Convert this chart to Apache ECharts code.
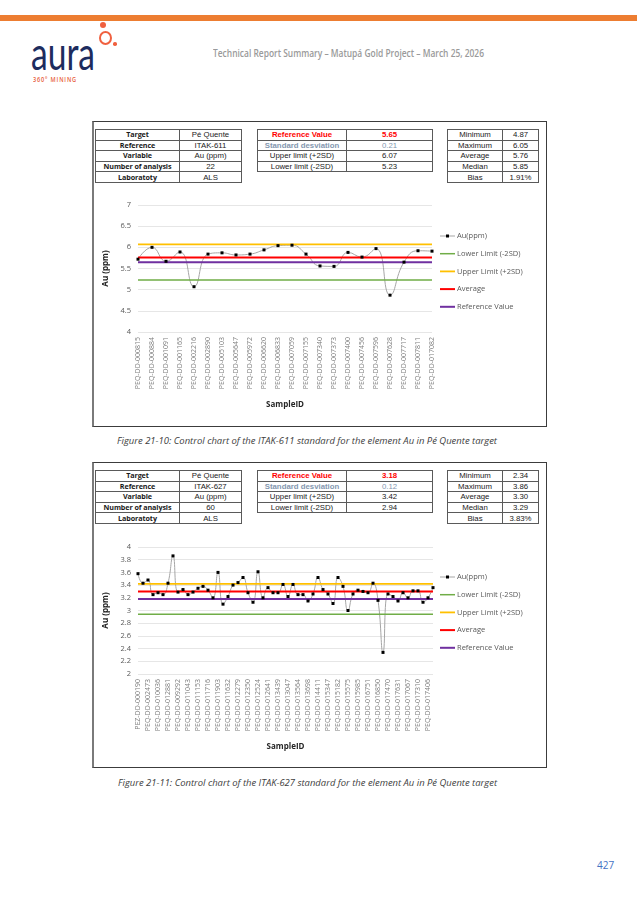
<!DOCTYPE html>
<html><head><meta charset="utf-8">
<script src="https://cdn.jsdelivr.net/npm/echarts@6/dist/echarts.min.js"></script>
<style>
html,body{margin:0;padding:0;background:#fff;}
body{width:637px;height:900px;position:relative;overflow:hidden;font-family:"Liberation Sans",Arial,sans-serif;}
.abs{position:absolute;white-space:nowrap;}
.fit{display:inline-block;transform-origin:0 50%;}
.cell{position:absolute;box-sizing:border-box;border:1px solid #5a5a5a;font-size:7.8px;line-height:9px;color:#1a1a1a;white-space:nowrap;display:flex;align-items:center;justify-content:center;}
.panel{position:absolute;box-sizing:border-box;border:1px solid #3c3c3c;border-left:2px solid #7a7a7a;}
.cap{font-family:"Open Sans",sans-serif;font-style:italic;font-size:9px;color:#404040;}
</style></head>
<body>
<div class="abs" style="left:0;top:15px;width:637px;height:6px;background:#ED7D31;"></div>
<!-- logo -->
<div class="abs" style="left:31px;top:30px;font-family:Lato,sans-serif;font-weight:400;font-size:46px;line-height:46px;color:#1d2c5e;"><span class="fit" data-w="64">aura</span></div>
<div class="abs" style="left:100px;top:22px;width:6px;height:6px;border-radius:50%;background:#F0603F;"></div>
<div class="abs" style="left:99px;top:31px;width:9px;height:10px;border-radius:50%;border:2.5px solid #F0603F;"></div>
<div class="abs" style="left:113px;top:42px;width:3.5px;height:3.5px;border-radius:50%;background:#F0603F;"></div>
<div class="abs" style="left:33px;top:76px;font-family:'Open Sans',sans-serif;font-weight:600;font-size:6.5px;line-height:8px;color:#E8603C;letter-spacing:1px;"><span class="fit" data-w="44">360° MINING</span></div>
<div class="abs" style="left:213px;top:47px;font-family:'Open Sans',sans-serif;font-weight:600;font-size:10px;line-height:12px;color:#9a9a9a;"><span class="fit" data-w="271">Technical Report Summary – Matupá Gold Project – March 25, 2026</span></div>

<div class="panel" style="left:92px;top:121px;width:455px;height:306px;"></div>
<div class="panel" style="left:92px;top:462px;width:455px;height:306px;"></div>

<div id="tables"></div>

<div id="chart1" class="abs" style="left:93px;top:190px;width:453px;height:237px;"></div>
<div id="chart2" class="abs" style="left:93px;top:527px;width:453px;height:241px;"></div>

<div class="abs cap" style="left:117px;top:435px;line-height:12px;"><span class="fit" data-w="380">Figure 21-10: Control chart of the ITAK-611 standard for the element Au in Pé Quente target</span></div>
<div class="abs cap" style="left:118px;top:777px;line-height:12px;"><span class="fit" data-w="379">Figure 21-11: Control chart of the ITAK-627 standard for the element Au in Pé Quente target</span></div>
<div class="abs" style="left:597px;top:859px;font-family:'Open Sans',sans-serif;font-size:10px;line-height:12px;color:#4472C4;">427</div>

<script>
// ---------- Data: chart 1 (ITAK-611) ----------
const chart1Samples = ['PEQ-DD-000815','PEQ-DD-000884','PEQ-DD-001091','PEQ-DD-001165','PEQ-DD-002216','PEQ-DD-002890','PEQ-DD-005103','PEQ-DD-005647','PEQ-DD-005972','PEQ-DD-006620','PEQ-DD-006833','PEQ-DD-007059','PEQ-DD-007155','PEQ-DD-007340','PEQ-DD-007373','PEQ-DD-007400','PEQ-DD-007456','PEQ-DD-007596','PEQ-DD-007628','PEQ-DD-007717','PEQ-DD-007811','PEQ-DD-017082'];
const chart1Au = [5.72,6.00,5.67,5.89,5.07,5.84,5.87,5.82,5.84,5.94,6.04,6.05,5.84,5.56,5.55,5.88,5.77,5.97,4.87,5.65,5.92,5.91];
const chart1Limits = {lower:5.23, upper:6.07, avg:5.76, ref:5.65};
const chart1YAxis = {min:4, max:7, interval:0.5};

// ---------- Data: chart 2 (ITAK-627) ----------
const chart2ShownLabels = ['PEZ-DD-000190','PEQ-DD-002473','PEQ-DD-010036','PEQ-DD-012881','PEQ-DD-009292','PEQ-DD-011043','PEQ-DD-011153','PEQ-DD-011716','PEQ-DD-011903','PEQ-DD-011632','PEQ-DD-012279','PEQ-DD-012350','PEQ-DD-012524','PEQ-DD-012641','PEQ-DD-013439','PEQ-DD-013047','PEQ-DD-013564','PEQ-DD-013698','PEQ-DD-014411','PEQ-DD-015347','PEQ-DD-015182','PEQ-DD-015575','PEQ-DD-015985','PEQ-DD-016751','PEQ-DD-016850','PEQ-DD-017470','PEQ-DD-017631','PEQ-DD-017067','PEQ-DD-017310','PEQ-DD-017406'];
const chart2Au = [3.58,3.43,3.48,3.25,3.28,3.25,3.43,3.86,3.29,3.33,
                  3.25,3.29,3.35,3.38,3.32,3.20,3.60,3.10,3.22,3.40,
                  3.44,3.52,3.28,3.13,3.61,3.20,3.36,3.28,3.28,3.41,
                  3.22,3.41,3.25,3.25,3.15,3.26,3.52,3.33,3.26,3.11,
                  3.52,3.38,3.00,3.26,3.32,3.30,3.28,3.43,3.16,2.34,
                  3.26,3.22,3.15,3.28,3.20,3.31,3.31,3.13,3.20,3.36];
const chart2Limits = {lower:2.94, upper:3.42, avg:3.30, ref:3.18};
const chart2YAxis = {min:2, max:4, interval:0.2};
// every second sample label is shown on the axis; the others are not legible
const chart2Samples = chart2Au.map((_, i) => i % 2 === 0 ? chart2ShownLabels[i / 2] : '');

// ---------- Tables ----------
const tables1 = {
  left: [['Target','Pé Quente'],['Reference','ITAK-611'],['Variable','Au (ppm)'],['Number of analysis','22'],['Laboratoty','ALS']],
  mid: [['Reference Value','5.65'],['Standard desviation','0.21'],['Upper limit (+2SD)','6.07'],['Lower limit (-2SD)','5.23']],
  right: [['Minimum','4.87'],['Maximum','6.05'],['Average','5.76'],['Median','5.85'],['Bias','1.91%']]
};
const tables2 = {
  left: [['Target','Pé Quente'],['Reference','ITAK-627'],['Variable','Au (ppm)'],['Number of analysis','60'],['Laboratoty','ALS']],
  mid: [['Reference Value','3.18'],['Standard desviation','0.12'],['Upper limit (+2SD)','3.42'],['Lower limit (-2SD)','2.94']],
  right: [['Minimum','2.34'],['Maximum','3.86'],['Average','3.30'],['Median','3.29'],['Bias','3.83%']]
};

function drawTable(host, rows, x, y, w1, w2, rh, kind) {
  rows.forEach((r, i) => {
    [0, 1].forEach(c => {
      const d = document.createElement('div');
      d.className = 'cell';
      d.style.left = (c === 0 ? x : x + w1) + 'px';
      d.style.top = (y + i * rh) + 'px';
      d.style.width = ((c === 0 ? w1 : w2) + 1) + 'px';
      d.style.height = (rh + 1) + 'px';
      d.textContent = r[c];
      if (kind === 'left' && c === 0) { d.style.fontWeight = 'bold'; d.style.fontFamily = "'Open Sans',sans-serif"; d.style.fontSize = '7.2px'; d.style.letterSpacing='-0.1px'; }
      if (kind === 'mid' && i === 0) { d.style.color = '#FF0000'; d.style.fontWeight = 'bold'; }
      if (kind === 'mid' && i === 1) { d.style.color = '#8497B0'; if (c === 0) d.style.fontWeight = 'bold'; }
      host.appendChild(d);
    });
  });
}
const host = document.getElementById('tables');
function drawTables(t, top) {
  drawTable(host, t.left, 95, top, 84, 62, 10.6, 'left');
  drawTable(host, t.mid, 257, top, 89, 86, 10.6, 'mid');
  drawTable(host, t.right, 447, top, 55, 36, 10.6, 'right');
}
drawTables(tables1, 129);
drawTables(tables2, 470);

// ---------- fit text widths ----------
document.querySelectorAll('[data-w]').forEach(el => {
  const w = el.getBoundingClientRect().width;
  const t = parseFloat(el.getAttribute('data-w'));
  if (w > 0) el.style.transform = 'scaleX(' + (t / w) + ')';
});

// ---------- Charts ----------
const NAMES = ['Au(ppm)','Lower Limit (-2SD)','Upper Limit (+2SD)','Average','Reference Value'];
const COLORS = {au: '#A5A5A5', lower: '#70AD47', upper: '#FFC000', avg: '#FF0000', ref: '#7030A0'};

function legendGraphics(top) {
  const items = [
    {name: NAMES[0], color: COLORS.au, w: 1, marker: true},
    {name: NAMES[1], color: COLORS.lower, w: 1.5},
    {name: NAMES[2], color: COLORS.upper, w: 1.8},
    {name: NAMES[3], color: COLORS.avg, w: 2},
    {name: NAMES[4], color: COLORS.ref, w: 2}
  ];
  const out = [];
  items.forEach((it, i) => {
    const y = top + i * 17.7;
    out.push({type: 'line', shape: {x1: 347, y1: y, x2: 362, y2: y}, style: {stroke: it.color, lineWidth: it.w}, silent: true});
    if (it.marker) out.push({type: 'rect', shape: {x: 353, y: y - 1.5, width: 3, height: 3}, style: {fill: '#000'}, silent: true});
    out.push({type: 'text', x: 364, y: y, style: {text: it.name, fill: '#595959', fontSize: 7.5, fontFamily: "'Open Sans',sans-serif", verticalAlign: 'middle', align: 'left'}, silent: true});
  });
  return out;
}

function buildOption(samples, au, lim, yax, grid, labelInterval, legendTop) {
  const flat = v => samples.map(() => v);
  const limitSeries = (name, v, color, width) => ({
    name, type: 'line', data: flat(v), symbol: 'none', silent: true,
    lineStyle: {color, width}, itemStyle: {color}
  });
  return {
    animation: false,
    grid: Object.assign({containLabel: false}, grid),
    graphic: legendGraphics(legendTop),
    xAxis: {
      type: 'category', data: samples, boundaryGap: false,
      name: 'SampleID', nameLocation: 'middle', nameGap: 69,
      nameTextStyle: {fontSize: 8, fontWeight: 'bold', color: '#262626', fontFamily: "'Open Sans',sans-serif", verticalAlign: 'top'},
      axisLine: {show: false}, axisTick: {show: false},
      axisLabel: {rotate: 90, interval: labelInterval, fontSize: 7, color: '#808080', margin: 5, fontFamily: "'Open Sans',sans-serif"},
      splitLine: {show: false}
    },
    yAxis: {
      type: 'value', min: yax.min, max: yax.max, interval: yax.interval,
      name: 'Au (ppm)', nameLocation: 'middle', nameGap: 22, nameRotate: 90,
      nameTextStyle: {fontSize: 8, fontWeight: 'bold', color: '#262626', fontFamily: "'Open Sans',sans-serif"},
      axisLine: {show: false}, axisTick: {show: false},
      axisLabel: {fontSize: 7.5, color: '#595959', margin: 7, fontFamily: "'Open Sans',sans-serif"},
      splitLine: {lineStyle: {color: '#e6e6e6', width: 1}}
    },
    series: [
      {name: NAMES[0], type: 'line', data: au, smooth: 0.5, symbol: 'rect', symbolSize: 3, showSymbol: true,
       lineStyle: {color: COLORS.au, width: 1}, itemStyle: {color: '#000'}},
      limitSeries(NAMES[1], lim.lower, COLORS.lower, 1.5),
      limitSeries(NAMES[2], lim.upper, COLORS.upper, 1.8),
      limitSeries(NAMES[3], lim.avg, COLORS.avg, 2),
      limitSeries(NAMES[4], lim.ref, COLORS.ref, 2)
    ]
  };
}
const c1 = echarts.init(document.getElementById('chart1'), null, {renderer: 'canvas'});
c1.setOption(buildOption(chart1Samples, chart1Au, chart1Limits, chart1YAxis, {left: 45, right: 114, top: 15, bottom: 95}, 0, 46));
const c2 = echarts.init(document.getElementById('chart2'), null, {renderer: 'canvas'});
c2.setOption(buildOption(chart2Samples, chart2Au, chart2Limits, chart2YAxis, {left: 45, right: 113, top: 20, bottom: 94}, 1, 50));
</script>
</body></html>
